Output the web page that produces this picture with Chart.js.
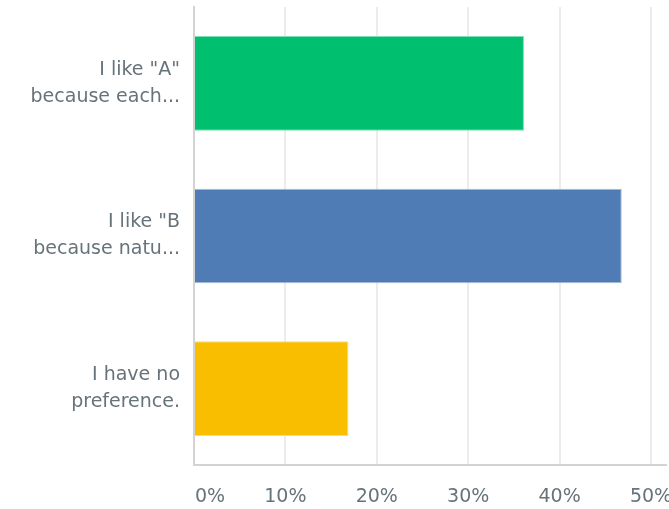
<!DOCTYPE html>
<html>
<head>
<meta charset="utf-8">
<script src="https://cdn.jsdelivr.net/npm/chart.js@4"></script>
<style>
  html, body { margin: 0; padding: 0; background: #fff; }
  #wrap { width: 669px; height: 509px; position: relative; }
</style>
</head>
<body>
<div id="wrap"><canvas id="answers"></canvas></div>
<script>
// Survey answer shares, horizontal bars
const answerLabels = [
    ['I like "A"', 'because each...'],
    ['I like "B', 'because natu...'],
    ['I have no', 'preference.']
];
const answerShares = [36.1, 46.8, 16.9];
const barColors = ['#00bf6f', '#507cb6', '#f9be00'];
const barEdges = ['#7ddcb2', '#a8bedd', '#fcdc7a'];
const percentTicks = [0, 10, 20, 30, 40, 50];

const TEXT_COLOR = '#67737a';
const FONT = '"DejaVu Sans", sans-serif';

// x tick labels are drawn by hand so the first one can sit right of the axis
const percentLabels = {
    id: 'percentLabels',
    afterDraw(chart) {
        const ctx = chart.ctx;
        const xScale = chart.scales.x;
        const area = chart.chartArea;
        ctx.save();
        // bottom axis line runs to the canvas edge
        ctx.strokeStyle = '#d3d3d3';
        ctx.lineWidth = 2;
        ctx.beginPath();
        ctx.moveTo(area.left - 1, area.bottom);
        ctx.lineTo(chart.width - 2, area.bottom);
        ctx.stroke();

        ctx.fillStyle = TEXT_COLOR;
        ctx.font = '19px ' + FONT;
        ctx.textBaseline = 'middle';
        percentTicks.forEach((v, i) => {
            const x = xScale.getPixelForValue(v);
            ctx.textAlign = i === 0 ? 'left' : 'center';
            ctx.fillText(v + '%', i === 0 ? x + 1 : x, 497);
        });
        ctx.restore();
    }
};

new Chart(document.getElementById('answers'), {
    type: 'bar',
    data: {
        labels: answerLabels,
        datasets: [{
            data: answerShares,
            backgroundColor: barColors,
            borderColor: barEdges,
            borderWidth: 1,
            borderSkipped: 'start',
            categoryPercentage: 1,
            barPercentage: 0.62
        }]
    },
    options: {
        indexAxis: 'y',
        responsive: true,
        maintainAspectRatio: false,
        animation: false,
        layout: { padding: { top: 7, right: 18, left: 0, bottom: 0 } },
        plugins: {
            legend: { display: false },
            tooltip: { enabled: false }
        },
        scales: {
            x: {
                min: 0,
                max: 50,
                ticks: { display: false, stepSize: 10 },
                grid: { color: '#ececec', lineWidth: 2, drawTicks: false },
                border: { display: false },
                afterFit(scale) { scale.height = 44; }
            },
            y: {
                ticks: {
                    color: TEXT_COLOR,
                    font: { family: FONT, size: 19, lineHeight: 1.42 },
                    padding: 14
                },
                grid: { display: false, drawTicks: false },
                border: { display: true, color: '#d3d3d3', width: 2 },
                afterFit(scale) {
                    scale.width = 194;
                    // labels sit inside their bands, no extra room needed
                    scale.paddingTop = 0;
                    scale.paddingBottom = 0;
                }
            }
        }
    },
    plugins: [percentLabels]
});
</script>
</body>
</html>
